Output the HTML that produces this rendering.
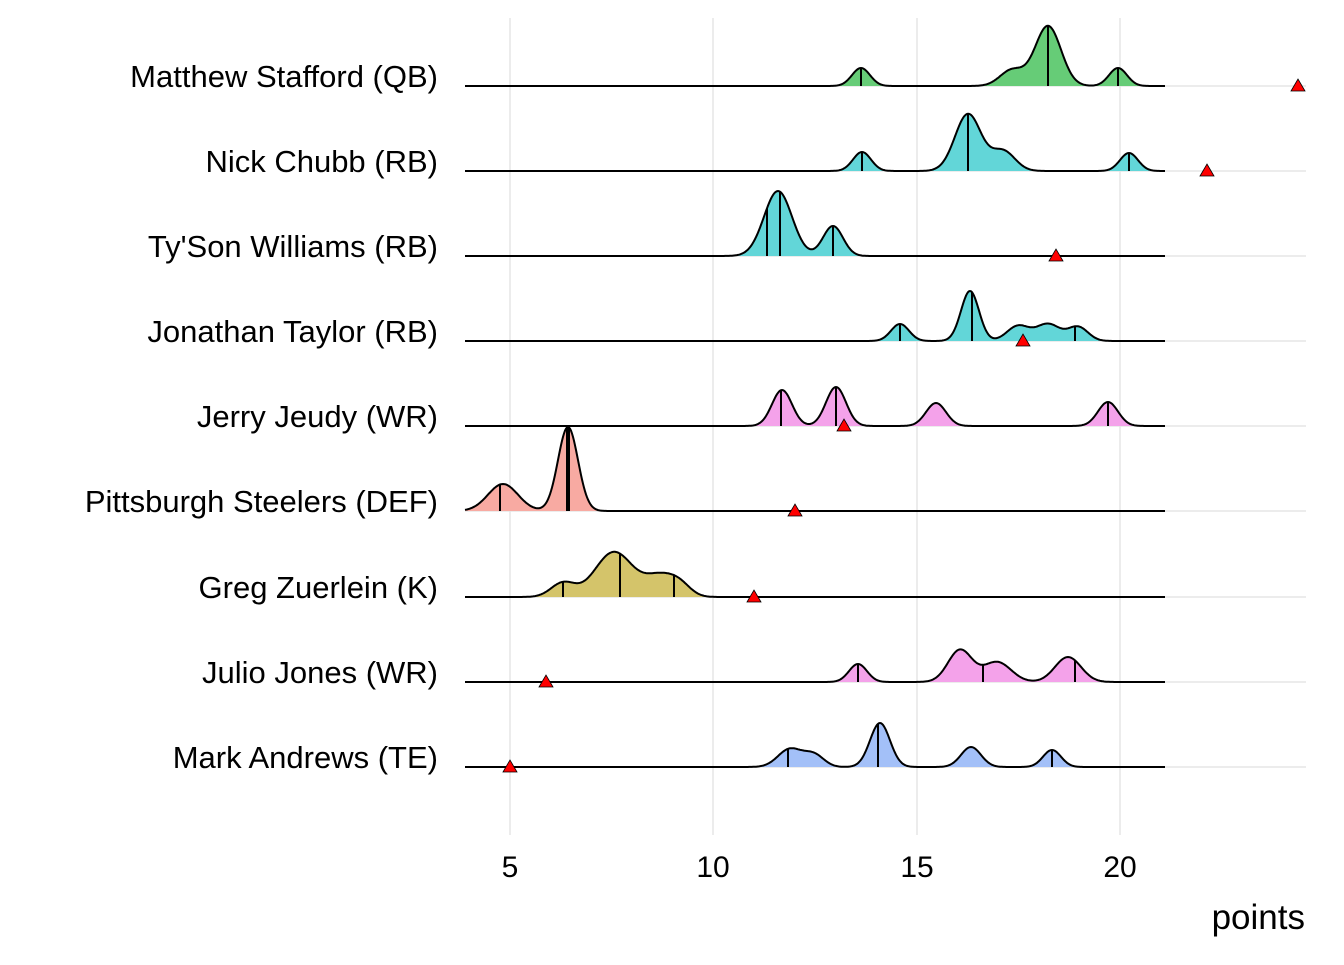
<!DOCTYPE html>
<html><head><meta charset="utf-8"><style>
body{margin:0;background:#fff}
svg text{font-family:"Liberation Sans",sans-serif;fill:#000}
</style></head><body>
<svg id="s" width="1344" height="960" xmlns="http://www.w3.org/2000/svg">
<g stroke="#e5e5e5" stroke-width="1.5">
<line x1="510" y1="18" x2="510" y2="835"/><line x1="713" y1="18" x2="713" y2="835"/>
<line x1="917" y1="18" x2="917" y2="835"/><line x1="1120" y1="18" x2="1120" y2="835"/>
<line x1="465" y1="86" x2="1306" y2="86"/><line x1="465" y1="171" x2="1306" y2="171"/>
<line x1="465" y1="256" x2="1306" y2="256"/><line x1="465" y1="341" x2="1306" y2="341"/>
<line x1="465" y1="426" x2="1306" y2="426"/><line x1="465" y1="511" x2="1306" y2="511"/>
<line x1="465" y1="597" x2="1306" y2="597"/><line x1="465" y1="682" x2="1306" y2="682"/>
<line x1="465" y1="767" x2="1306" y2="767"/>
</g>
<g id="r"></g>
<g font-size="31" text-anchor="end">
<text x="438" y="87">Matthew Stafford (QB)</text>
<text x="438" y="172">Nick Chubb (RB)</text>
<text x="438" y="257">Ty'Son Williams (RB)</text>
<text x="438" y="342">Jonathan Taylor (RB)</text>
<text x="438" y="427">Jerry Jeudy (WR)</text>
<text x="438" y="512">Pittsburgh Steelers (DEF)</text>
<text x="438" y="598">Greg Zuerlein (K)</text>
<text x="438" y="683">Julio Jones (WR)</text>
<text x="438" y="768">Mark Andrews (TE)</text>
</g>
<g font-size="30" text-anchor="middle">
<text x="510" y="877">5</text><text x="713" y="877">10</text><text x="917" y="877">15</text><text x="1120" y="877">20</text>
</g>
<text x="1305" y="929" font-size="35" text-anchor="end">points</text>
</svg>
<script>
var rows=[
[86,"#66CC77",[[861,9,18],[1012,12,16],[1048,13,60],[1118,9,18]],[861,1048,1118],1298],
[171,"#62D6D8",[[862,9,19],[968,13,57],[1003,12,20],[1129,9,18]],[862,968,1129],1207],
[256,"#62D6D8",[[778,14,65],[833,10,30]],[767,780,833],1056],
[341,"#62D6D8",[[900,9,17],[970,9,50],[1018,11,15],[1048,12,17],[1078,10,14]],[900,972,1075],1023],
[426,"#F4A2EA",[[782,10,36],[836,10,39],[936,10,23],[1108,10,24]],[781,836,1108],844],
[511,"#F8AAA2",[[503,15,27],[568,10,84]],[500,568],795],
[597,"#D4C46A",[[563,12,14],[614,19,45],[660,15,20],[680,11,10]],[563,620,674],754],
[682,"#F4A2EA",[[858,9,18],[960,12,32],[997,14,20],[1068,13,25]],[858,983,1075],546],
[767,"#A3C0F8",[[790,12,18],[814,10,12],[880,10,44],[971,10,20],[1052,9,17]],[788,878,1052],510]];
var g=document.getElementById('r'),h='';
function f(c,x){var s=0;c.forEach(function(k){s+=k[2]*Math.exp(-0.5*Math.pow((x-k[0])/k[1],2))});return s;}
rows.forEach(function(r){var y=r[0],d='M465 '+y;for(var x=465;x<=1165;x+=1){d+=' L'+x+' '+(y-f(r[2],x)).toFixed(1);}
h+='<path d="'+d+' L1165 '+y+' Z" fill="'+r[1]+'" stroke="none"/>';
h+='<path d="'+d.replace('M465 '+y+' L','M')+'" fill="none" stroke="#000" stroke-width="2"/>';
r[3].forEach(function(x){h+='<line x1="'+x+'" y1="'+y+'" x2="'+x+'" y2="'+(y-f(r[2],x)).toFixed(1)+'" stroke="#000" stroke-width="'+(r[0]==511&&x==568?4:2)+'"/>';});});
rows.forEach(function(r){var x=r[4],y=r[0];h+='<path d="M'+(x-7)+' '+(y+5)+' L'+(x+7)+' '+(y+5)+' L'+x+' '+(y-7)+' Z" fill="#ff0000" stroke="#000" stroke-width="0.8"/>';});
g.innerHTML=h;
</script>
</body></html>
